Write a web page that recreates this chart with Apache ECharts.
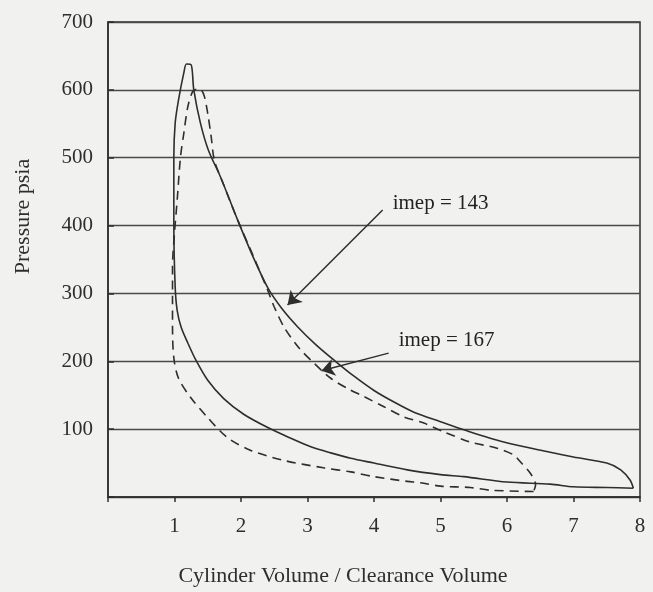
<!DOCTYPE html>
<html>
<head>
<meta charset="utf-8">
<script src="https://cdn.jsdelivr.net/npm/echarts@6/dist/echarts.min.js"></script>
<style>
  html, body { margin: 0; padding: 0; background: #f1f1ef; }
  #chart { width: 653px; height: 592px; }
</style>
</head>
<body>
<div id="chart"></div>
<script>
// Solid loop (imep = 143): volume ratio and pressure (psia)
const solidV = [7.90, 7.50, 7.00, 6.65, 6.00, 5.35, 5.00, 4.50, 4.00, 3.65, 3.35, 3.05, 2.74, 2.41, 2.04, 1.74, 1.50, 1.32, 1.20, 1.10, 1.04, 1.01, 0.99, 0.99, 1.01, 1.06, 1.14, 1.18, 1.25, 1.29, 1.39, 1.51, 1.69, 1.95, 2.19, 2.41, 2.62, 2.85, 3.12, 3.42, 3.70, 4.00, 4.30, 4.60, 5.00, 5.35, 5.95, 6.65, 7.00, 7.50, 7.71, 7.85, 7.90];
const solidP = [13, 14, 15, 19, 22, 30, 33, 40, 50, 57, 65, 74, 87, 102, 122, 145, 172, 202, 227, 250, 275, 310, 400, 500, 551, 585, 625, 638, 637, 600, 551, 511, 472, 408, 352, 307, 277, 251, 225, 200, 178, 157, 140, 125, 111, 99, 81, 66, 59, 50, 40, 25, 13];

// Dashed loop (imep = 167)
const dashedV = [6.40, 5.75, 5.45, 5.00, 4.70, 4.50, 4.00, 3.65, 3.24, 2.64, 2.14, 1.79, 1.49, 1.24, 1.06, 0.99, 0.97, 0.97, 0.97, 1.00, 1.04, 1.09, 1.14, 1.20, 1.27, 1.33, 1.40, 1.45, 1.50, 1.55, 1.60, 1.72, 1.95, 2.19, 2.40, 2.50, 2.65, 2.87, 3.10, 3.35, 3.60, 3.85, 4.15, 4.45, 4.75, 5.05, 5.45, 5.85, 6.10, 6.20, 6.35, 6.43, 6.40];
const dashedP = [8, 10, 14, 16, 21, 23, 30, 37, 43, 54, 69, 88, 118, 147, 175, 205, 251, 290, 339, 389, 437, 501, 536, 575, 597, 601, 600, 590, 565, 532, 496, 465, 408, 354, 305, 280, 250, 220, 197, 175, 160, 148, 133, 118, 109, 96, 81, 72, 62, 52, 35, 18, 8];

// Annotations
const noteText = ['imep = 143', 'imep = 167'];
const noteV = [4.28, 4.37];
const noteP = [432, 231];
const arrowFromV = [4.13, 4.22];
const arrowFromP = [423, 212];
const arrowToV = [2.70, 3.21];
const arrowToP = [283, 186];

// Axis ticks
const xTicks = [1, 2, 3, 4, 5, 6, 7, 8];
const yTicks = [100, 200, 300, 400, 500, 600, 700];

const ink = '#2e2e2e';
const font = 'Liberation Serif';

const zip = (a, b) => a.map((v, i) => [v, b[i]]);

const chart = echarts.init(document.getElementById('chart'), null, { renderer: 'canvas' });
chart.setOption({
  backgroundColor: '#f1f1ef',
  animation: false,
  grid: { left: 108, right: 13, top: 22, bottom: 95, show: true, borderColor: ink, borderWidth: 1.5, backgroundColor: 'transparent' },
  xAxis: {
    type: 'value', min: 0, max: 8, interval: 1,
    name: 'Cylinder Volume / Clearance Volume',
    nameLocation: 'middle', nameGap: 68,
    nameTextStyle: { fontFamily: font, fontSize: 22, color: ink, padding: [0, 62, 0, 0] },
    axisLine: { show: true, lineStyle: { color: ink, width: 1.5 } },
    axisTick: { show: true, length: 5, lineStyle: { color: ink, width: 1.5 } },
    axisLabel: { fontFamily: font, fontSize: 21, color: ink, margin: 19,
      formatter: v => (xTicks.indexOf(v) >= 0 ? String(v) : '') },
    splitLine: { show: false }
  },
  yAxis: {
    type: 'value', min: 0, max: 700, interval: 100,
    name: 'Pressure psia',
    nameLocation: 'middle', nameGap: 74, nameRotate: 90,
    nameTextStyle: { fontFamily: font, fontSize: 22, color: ink, padding: [0, 0, 0, 86] },
    axisLine: { show: true, lineStyle: { color: ink, width: 1.5 } },
    axisTick: { show: true, inside: true, length: 6, lineStyle: { color: ink, width: 1.5 } },
    axisLabel: { fontFamily: font, fontSize: 21, color: ink, margin: 15,
      formatter: v => (yTicks.indexOf(v) >= 0 ? String(v) : '') },
    splitLine: { show: true, lineStyle: { color: '#4a4a4a', width: 1.3 } }
  },
  series: [
    {
      name: 'imep = 143', type: 'line', data: zip(solidV, solidP),
      showSymbol: false, smooth: 0.3,
      lineStyle: { color: ink, width: 1.6, type: 'solid' }
    },
    {
      name: 'imep = 167', type: 'line', data: zip(dashedV, dashedP),
      showSymbol: false, smooth: 0.3,
      lineStyle: { color: ink, width: 1.6, type: [9, 6] }
    },
    {
      name: 'notes', type: 'scatter', symbolSize: 0.1,
      itemStyle: { color: '#f1f1ef', opacity: 1 },
      data: noteText.map((t, i) => ({ value: [noteV[i], noteP[i]], name: t })),
      label: { show: true, position: 'right', distance: 0, formatter: p => p.name,
        fontFamily: font, fontSize: 21, color: '#222', opacity: 1 },
      markLine: {
        silent: true, symbol: ['none', 'arrow'], symbolSize: 13,
        label: { show: false },
        itemStyle: { color: ink },
        lineStyle: { color: ink, width: 1.5, type: 'solid', opacity: 1 },
        data: arrowFromV.map((v, i) => [
          { coord: [v, arrowFromP[i]] },
          { coord: [arrowToV[i], arrowToP[i]] }
        ])
      }
    }
  ]
});
</script>
</body>
</html>
